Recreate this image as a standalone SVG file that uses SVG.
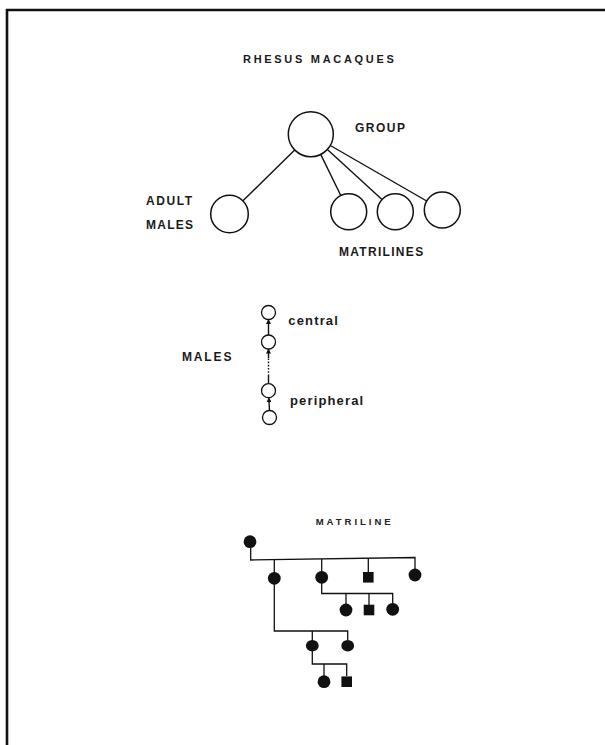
<svg xmlns="http://www.w3.org/2000/svg" width="605" height="745" viewBox="0 0 605 745">
  <style>
    .caps { font-family: "Liberation Sans", Arial, sans-serif; font-weight: bold; font-size: 12px; fill: #1a1a1a; }
    .lower { font-family: "Liberation Sans", Arial, sans-serif; font-weight: bold; font-size: 13px; fill: #1a1a1a; letter-spacing: 1.15px; }
    .node { fill: #fff; stroke: #111; stroke-width: 1.5; }
    .small { fill: #fff; stroke: #111; stroke-width: 1.3; }
    .solid { fill: #111; stroke: none; }
    .link { stroke: #111; stroke-width: 1.4; fill: none; }
    .ped { stroke: #111; stroke-width: 1.3; fill: none; }
  </style>
  <defs>
    <marker id="head" viewBox="0 0 10 10" refX="9" refY="5" markerWidth="5" markerHeight="5" orient="auto" markerUnits="userSpaceOnUse">
      <path d="M0,0 L10,5 L0,10 Z" fill="#111"/>
    </marker>
  </defs>

  <rect width="605" height="745" fill="#fff"/>
  <!-- frame -->
  <path d="M7,745 V10 H605" fill="none" stroke="#111" stroke-width="2.6"/>

  <!-- group structure -->
  <text class="caps" x="243" y="63" style="font-size:11px;letter-spacing:2.7px">RHESUS MACAQUES</text>

  <g id="connectors">
    <line class="link" x1="294.7" y1="150" x2="242.9" y2="200.8"/>
    <line class="link" x1="320.7" y1="154.4" x2="340.8" y2="195.5"/>
    <line class="link" x1="327.4" y1="149.4" x2="382" y2="199.5"/>
    <line class="link" x1="330.3" y1="145.5" x2="426.7" y2="201"/>

    <line class="link" x1="269.5" y1="410.5" x2="268.8" y2="397.7" marker-end="url(#head)"/>
    <line class="link" x1="268.5" y1="383.7" x2="268.5" y2="376"/>
    <line class="link" x1="268.5" y1="376" x2="268.5" y2="358" stroke-dasharray="1.6 1.6"/>
    <line class="link" x1="268.5" y1="358" x2="268.5" y2="349" marker-end="url(#head)"/>
    <line class="link" x1="268.5" y1="335" x2="268.5" y2="319.5" marker-end="url(#head)"/>

    <!-- pedigree lines -->
    <path class="ped" d="M250.7,548 V560 L415,557.5 V569"/>
    <path class="ped" d="M274.3,559.6 V631 H347.7 V640"/>
    <path class="ped" d="M321.7,559 V593.5 H392.7 V603"/>
    <path class="ped" d="M368.3,558.3 V572"/>
    <path class="ped" d="M346,593.5 V604"/>
    <path class="ped" d="M369,593.5 V605"/>
    <path class="ped" d="M312.3,631 V664 H346.7 V676"/>
    <path class="ped" d="M324,664 V676"/>
  </g>

  <g id="group">
    <circle class="node" cx="310.8" cy="134.2" r="22.5"/>
    <text class="caps" x="355" y="132" style="letter-spacing:1.5px">GROUP</text>
  </g>
  <g id="adult-males">
    <circle class="node" cx="229.5" cy="214" r="18.8"/>
    <text class="caps" x="146" y="205" style="letter-spacing:1.6px">ADULT</text>
    <text class="caps" x="146" y="229" style="letter-spacing:1.25px">MALES</text>
  </g>
  <g id="matriline-1"><circle class="node" cx="348.7" cy="211.7" r="18"/></g>
  <g id="matriline-2"><circle class="node" cx="395.3" cy="211.7" r="18"/></g>
  <g id="matriline-3"><circle class="node" cx="442.3" cy="210" r="18"/></g>
  <text class="caps" x="339" y="256" style="letter-spacing:1.3px">MATRILINES</text>

  <!-- male hierarchy -->
  <text class="caps" x="182" y="360.7" style="letter-spacing:1.85px">MALES</text>
  <g id="male-1"><circle class="small" cx="268.5" cy="312.5" r="7"/></g>
  <g id="male-2"><circle class="small" cx="268.5" cy="342" r="7"/></g>
  <g id="male-3"><circle class="small" cx="268.5" cy="390.7" r="7"/></g>
  <g id="male-4"><circle class="small" cx="269.5" cy="417.5" r="7"/></g>
  <text class="lower" x="288.3" y="325">central</text>
  <text class="lower" x="290" y="405">peripheral</text>

  <!-- matriline pedigree -->
  <text class="caps" x="315.7" y="525" style="font-size:9.5px;letter-spacing:3px;fill:#222">MATRILINE</text>
  <g id="founder"><circle class="solid" cx="250" cy="541.7" r="6.4"/></g>
  <g id="f1"><circle class="solid" cx="274.3" cy="578.3" r="6.4"/></g>
  <g id="f2"><circle class="solid" cx="321.7" cy="577.3" r="6.4"/></g>
  <g id="m1"><rect class="solid" x="363" y="572" width="10.6" height="10.6"/></g>
  <g id="f3"><circle class="solid" cx="415" cy="575" r="6.4"/></g>
  <g id="f2-d1"><circle class="solid" cx="346" cy="610" r="6.4"/></g>
  <g id="f2-s1"><rect class="solid" x="363.7" y="604.7" width="10.6" height="10.6"/></g>
  <g id="f2-d2"><circle class="solid" cx="392.7" cy="609.3" r="6.4"/></g>
  <g id="f1-d1"><ellipse class="solid" cx="312.3" cy="645.7" rx="6.4" ry="5.8"/></g>
  <g id="f1-d2"><ellipse class="solid" cx="347.7" cy="645.7" rx="6.4" ry="5.8"/></g>
  <g id="g3-d1"><circle class="solid" cx="324" cy="681.7" r="6.4"/></g>
  <g id="g3-s1"><rect class="solid" x="341.4" y="676.4" width="10.6" height="10.6"/></g>
</svg>
